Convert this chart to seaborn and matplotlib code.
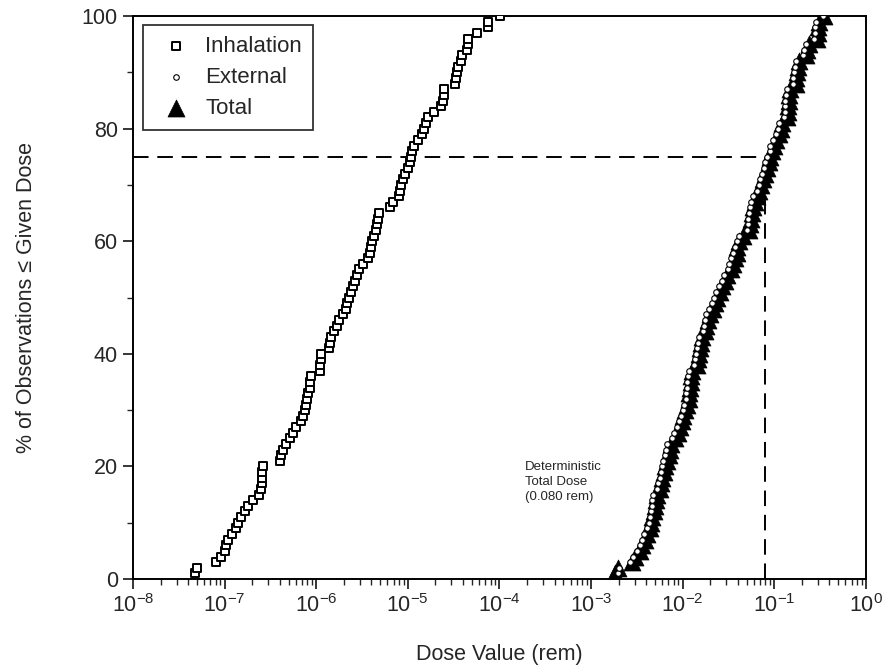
import numpy as np
import pandas as pd
import matplotlib
matplotlib.use("Agg")
import matplotlib.pyplot as plt
import matplotlib.ticker as mticker
import seaborn as sns

# dose values, as log10(rem), one per 1% of observations
inhal_log10 = [
  -7.32, -7.30, -7.09, -7.04, -7.00, -6.98, -6.96, -6.92, -6.88, -6.85,
  -6.82, -6.78, -6.74, -6.69, -6.63, -6.60, -6.59, -6.59, -6.59, -6.58,
  -6.40, -6.38, -6.36, -6.33, -6.29, -6.25, -6.22, -6.17, -6.14, -6.12,
  -6.11, -6.10, -6.09, -6.07, -6.07, -6.06, -5.96, -5.96, -5.95, -5.95,
  -5.86, -5.85, -5.84, -5.81, -5.77, -5.75, -5.71, -5.68, -5.66, -5.64,
  -5.62, -5.60, -5.58, -5.56, -5.53, -5.49, -5.43, -5.41, -5.40, -5.39,
  -5.37, -5.35, -5.34, -5.33, -5.31, -5.19, -5.16, -5.10, -5.08, -5.07,
  -5.05, -5.03, -5.00, -4.98, -4.96, -4.95, -4.93, -4.89, -4.85, -4.82,
  -4.80, -4.78, -4.71, -4.64, -4.62, -4.61, -4.60, -4.49, -4.47, -4.46,
  -4.45, -4.42, -4.41, -4.35, -4.34, -4.34, -4.24, -4.12, -4.12, -3.99]

external_log10 = [
  -2.70, -2.69, -2.57, -2.54, -2.50, -2.47, -2.44, -2.42, -2.39, -2.37,
  -2.36, -2.34, -2.33, -2.33, -2.32, -2.28, -2.27, -2.25, -2.24, -2.22,
  -2.21, -2.19, -2.18, -2.17, -2.11, -2.09, -2.06, -2.04, -2.02, -2.00,
  -1.98, -1.96, -1.96, -1.95, -1.95, -1.94, -1.93, -1.87, -1.86, -1.85,
  -1.84, -1.83, -1.82, -1.78, -1.77, -1.75, -1.74, -1.71, -1.68, -1.66,
  -1.63, -1.60, -1.57, -1.55, -1.50, -1.49, -1.47, -1.45, -1.43, -1.41,
  -1.38, -1.30, -1.29, -1.28, -1.27, -1.26, -1.25, -1.23, -1.19, -1.17,
  -1.15, -1.13, -1.11, -1.10, -1.08, -1.05, -1.04, -1.01, -0.98, -0.96,
  -0.95, -0.89, -0.88, -0.88, -0.88, -0.87, -0.86, -0.79, -0.79, -0.78,
  -0.77, -0.76, -0.68, -0.67, -0.65, -0.56, -0.55, -0.55, -0.54, -0.465]

total_log10 = [
  -2.74, -2.71, -2.55, -2.52, -2.47, -2.44, -2.41, -2.39, -2.36, -2.34,
  -2.33, -2.31, -2.30, -2.29, -2.28, -2.25, -2.23, -2.22, -2.20, -2.19,
  -2.17, -2.15, -2.14, -2.13, -2.08, -2.05, -2.03, -2.01, -1.99, -1.97,
  -1.95, -1.93, -1.93, -1.92, -1.91, -1.91, -1.90, -1.84, -1.83, -1.82,
  -1.81, -1.80, -1.79, -1.75, -1.74, -1.72, -1.70, -1.67, -1.65, -1.62,
  -1.59, -1.57, -1.54, -1.51, -1.47, -1.45, -1.43, -1.41, -1.40, -1.38,
  -1.34, -1.27, -1.26, -1.25, -1.24, -1.23, -1.21, -1.19, -1.16, -1.14,
  -1.12, -1.10, -1.08, -1.06, -1.04, -1.02, -1.00, -0.98, -0.95, -0.93,
  -0.91, -0.86, -0.85, -0.85, -0.84, -0.84, -0.83, -0.76, -0.76, -0.75,
  -0.74, -0.73, -0.65, -0.64, -0.62, -0.53, -0.52, -0.52, -0.51, -0.46]

series_names = ["Inhalation", "External", "Total"]
det_dose = 0.080       # deterministic total dose (rem)
ref_pct = 75
xtick_vals = [1e-8, 1e-7, 1e-6, 1e-5, 1e-4, 1e-3, 1e-2, 1e-1, 1e0]
xtick_labels = ["10$^{-8}$", "10$^{-7}$", "10$^{-6}$", "10$^{-5}$", "10$^{-4}$",
                "10$^{-3}$", "10$^{-2}$", "10$^{-1}$", "10$^{0}$"]
ytick_vals = [0, 20, 40, 60, 80, 100]


def ecdf_frame(log_vals, name):
  dose = 10 ** np.sort(np.array(log_vals))
  pct = np.arange(1, len(dose) + 1) / len(dose) * 100
  return pd.DataFrame({"dose": dose, "pct": pct, "source": name})


df_inh = ecdf_frame(inhal_log10, series_names[0])
df_ext = ecdf_frame(external_log10, series_names[1])
df_tot = ecdf_frame(total_log10, series_names[2])

sns.set_style("ticks")
plt.rcParams["font.family"] = ["Liberation Sans", "DejaVu Sans"]
plt.rcParams["mathtext.fontset"] = "custom"
plt.rcParams["mathtext.rm"] = "Liberation Sans"
plt.rcParams["mathtext.it"] = "Liberation Sans"

fig = plt.figure(figsize=(8.87, 6.69), dpi=100)
ax = fig.add_axes([0.150, 0.1345, 0.826, 0.8415])

# reference lines
dash = (0, (8, 4.5))
ax.plot([1e-8, det_dose], [ref_pct, ref_pct], color="black", lw=1.4, ls=dash, zorder=1)
ax.plot([det_dose, det_dose], [0, ref_pct], color="black", lw=1.4, ls=dash, zorder=1)

sns.scatterplot(data=df_inh, x="dose", y="pct", marker="s", s=32,
                facecolor="white", edgecolor="black", linewidth=1.4,
                label=series_names[0], ax=ax, zorder=3)
sns.scatterplot(data=df_tot, x="dose", y="pct", marker="^", s=150,
                color="black", edgecolor="black", linewidth=0.5,
                label=series_names[2], ax=ax, zorder=3)
sns.scatterplot(data=df_ext, x="dose", y="pct", marker="o", s=16,
                facecolor="white", edgecolor="black", linewidth=0.8,
                label=series_names[1], ax=ax, zorder=4)

ax.set_xscale("log")
ax.set_xlim(1e-8, 1)
ax.set_ylim(0, 100)
ax.set_xticks(xtick_vals)
ax.set_xticklabels(xtick_labels)
ax.xaxis.set_minor_locator(mticker.LogLocator(base=10, subs=np.arange(2, 10), numticks=20))
ax.xaxis.set_minor_formatter(mticker.NullFormatter())
ax.set_yticks(ytick_vals)
ax.yaxis.set_minor_locator(mticker.MultipleLocator(10))

ax.tick_params(axis="both", which="major", labelsize=15.5, length=7, width=1.3, direction="out", pad=4)
ax.tick_params(axis="both", which="minor", length=4, width=1.0, direction="out")
for sp in ax.spines.values():
  sp.set_linewidth(1.4)
  sp.set_color("black")

ax.set_xlabel("Dose Value (rem)", fontsize=15.5, labelpad=19)
ax.set_ylabel("% of Observations \u2264 Given Dose", fontsize=15.5, labelpad=32)

ax.text(1.9e-4, 21, "Deterministic\nTotal Dose\n(0.080 rem)", fontsize=9.5,
        va="top", ha="left", linespacing=1.35)

# legend in Inhalation / External / Total order
handles, labels = ax.get_legend_handles_labels()
order = [labels.index(n) for n in series_names]
leg = ax.legend([handles[i] for i in order], [labels[i] for i in order],
                loc="upper left", bbox_to_anchor=(0.0136, 0.984), fontsize=16,
                frameon=True, fancybox=False, edgecolor="black",
                handletextpad=0.3, borderpad=0.5, labelspacing=0.45,
                borderaxespad=0.0)
leg.get_frame().set_linewidth(1.3)

fig.savefig("out.png", dpi=100)
